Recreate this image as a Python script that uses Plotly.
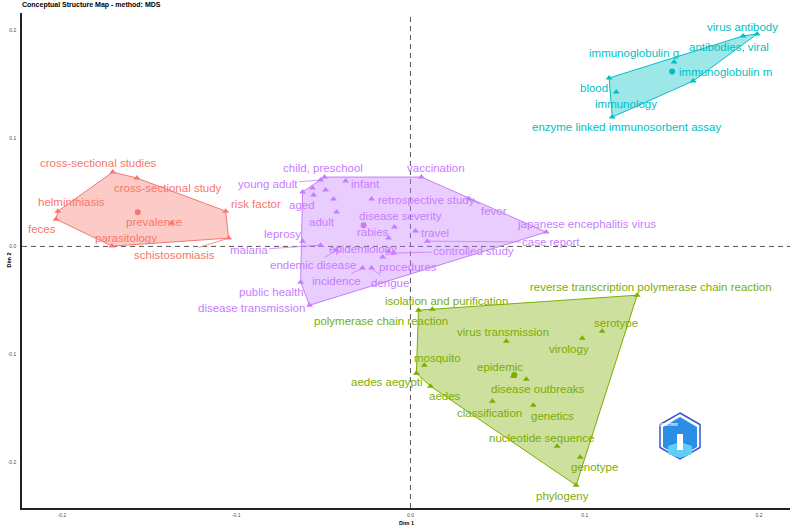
import plotly.graph_objects as go

red_words = ["cross-sectional studies", "cross-sectional study", "helminthiasis", "feces",
             "prevalence", "risk factor", "parasitology", "schistosomiasis"]
red_x = [-0.1708, -0.1570, -0.2023, -0.2034, -0.1370, -0.1060, -0.1713, -0.1043]
red_y = [0.0689, 0.0634, 0.0327, 0.0253, 0.0216, 0.0327, 0.0003, 0.0077]

purple_words = ["child, preschool", "young adult", "infant", "aged", "adult",
                "retrospective study", "disease severity", "rabies", "travel", "vaccination",
                "fever", "japanese encephalitis virus", "case report", "controlled study",
                "epidemiology", "procedures", "incidence", "dengue", "leprosy", "malaria",
                "endemic disease", "public health", "disease transmission"]
purple_x = [-0.0493, -0.0516, -0.0372, -0.0556, -0.0424, -0.0223, -0.0092, -0.0126, 0.0029,
            0.0063, 0.0338, 0.0779, 0.0097, -0.0097, -0.0126, -0.0160, -0.0275, -0.0223,
            -0.0619, -0.0516, -0.0424, -0.0630, -0.0579]
purple_y = [0.0643, 0.0615, 0.0606, 0.0476, 0.0318, 0.0439, 0.0179, 0.0077, 0.0142,
            0.0643, 0.0439, 0.0133, 0.0049, -0.0062, -0.0044, -0.0099, -0.0201, -0.0201,
            0.0049, 0.0012, -0.0034, -0.0331, -0.0545]
# purple points whose labels were dropped by the label-repel step
purple_unlabeled_x = [-0.0619, -0.0562, -0.0487, -0.0441]
purple_unlabeled_y = [0.0504, 0.0541, 0.0522, 0.0439]

teal_words = ["virus antibody", "antibodies, viral", "immunoglobulin g", "immunoglobulin m",
              "blood", "immunology", "enzyme linked immunosorbent assay"]
teal_x = [0.1989, 0.1908, 0.1513, 0.1622, 0.1140, 0.1181, 0.1158]
teal_y = [0.1969, 0.1951, 0.1710, 0.1533, 0.1561, 0.1431, 0.1199]

green_words = ["isolation and purification", "polymerase chain reaction",
               "reverse transcription polymerase chain reaction", "serotype", "virology",
               "virus transmission", "mosquito", "aedes aegypti", "aedes", "epidemic",
               "disease outbreaks", "classification", "genetics", "nucleotide sequence",
               "genotype", "phylogeny"]
green_x = [0.0126, 0.0046, 0.1301, 0.1100, 0.0986, 0.0550, 0.0080, 0.0034, 0.0115, 0.0590,
           0.0665, 0.0470, 0.0705, 0.0842, 0.0974, 0.0951]
green_y = [-0.0582, -0.0591, -0.0452, -0.0786, -0.0851, -0.0878, -0.1101, -0.1175, -0.1296,
           -0.1203, -0.1231, -0.1435, -0.1472, -0.1853, -0.1955, -0.2214]

tick_vals = [-0.2, -0.1, 0.0, 0.1, 0.2]
tick_text = ["-0.2", "-0.1", "0.0", "0.1", "0.2"]

# ---------------- styling ----------------
FONT = "Liberation Sans, Arial, Helvetica, sans-serif"
LABEL_SIZE = 11.5
# label placement (pixel offsets of the label centre from its point; True = connector segment)
LABEL_POS = {
    "cross-sectional studies": (-14, -9, False), "cross-sectional study": (31, 10, False),
    "helminthiasis": (14, -9, False), "feces": (-14, 10, False), "prevalence": (-18, -1, False),
    "risk factor": (30, -7, False), "parasitology": (14, -8, False),
    "schistosomiasis": (-54, 17, True),
    "child, preschool": (-2, -9, False), "young adult": (-53, 4, True), "infant": (20, 3, False),
    "aged": (-12, 10, False), "adult": (-15, 10, False), "retrospective study": (55, 1, False),
    "disease severity": (6, -11, False), "rabies": (-15, -6, False), "travel": (19, 2, False),
    "vaccination": (15, -9, False), "fever": (25, 12, True),
    "japanese encephalitis virus": (40, -8, False), "case report": (124, 1, True),
    "controlled study": (80, -2, True), "epidemiology": (-25, -2, False),
    "procedures": (25, 10, False), "incidence": (-26, 13, True), "dengue": (18, 15, True),
    "leprosy": (-20, -7, False), "malaria": (-72, 5, True), "endemic disease": (-24, 15, True),
    "public health": (-29, 10, False), "disease transmission": (-58, 3, False),
    "virus antibody": (-15, -7, False), "antibodies, viral": (-14, 11, False),
    "immunoglobulin g": (-40, -9, False), "immunoglobulin m": (32, -9, False),
    "blood": (-15, 10, False), "immunology": (10, 12, False),
    "enzyme linked immunosorbent assay": (14, 10, False),
    "isolation and purification": (14, -8, False), "polymerase chain reaction": (-37, 11, False),
    "reverse transcription polymerase chain reaction": (14, -8, False),
    "serotype": (14, -8, False), "virology": (-13, 11, False), "virus transmission": (-3, -9, False),
    "mosquito": (13, -7, False), "aedes aegypti": (-29, 9, False), "aedes": (15, 10, False),
    "epidemic": (-13, -9, False), "disease outbreaks": (12, 10, False),
    "classification": (-3, 12, False), "genetics": (19, 11, False),
    "nucleotide sequence": (-15, -8, False), "genotype": (14, 10, False),
    "phylogeny": (-14, 11, False),
}

FILL_ALPHA = 0.38
clusters = [
    ("#F8766D", red_words, red_x, red_y, [], []),
    ("#7CAE00", green_words, green_x, green_y, [], []),
    ("#00BFC4", teal_words, teal_x, teal_y, [], []),
    ("#C77CFF", purple_words, purple_x, purple_y, purple_unlabeled_x, purple_unlabeled_y),
]


def hex_to_rgba(h, a):
    h = h.lstrip("#")
    return f"rgba({int(h[0:2],16)},{int(h[2:4],16)},{int(h[4:6],16)},{a})"


def convex_hull(points):
    pts = sorted(set(points))
    if len(pts) <= 2:
        return pts

    def cross(o, a, b):
        return (a[0] - o[0]) * (b[1] - o[1]) - (a[1] - o[1]) * (b[0] - o[0])
    lower, upper = [], []
    for p in pts:
        while len(lower) >= 2 and cross(lower[-2], lower[-1], p) <= 0:
            lower.pop()
        lower.append(p)
    for p in reversed(pts):
        while len(upper) >= 2 and cross(upper[-2], upper[-1], p) <= 0:
            upper.pop()
        upper.append(p)
    return lower[:-1] + upper[:-1]


fig = go.Figure()
annotations = []

for color, words, xs, ys, ux, uy in clusters:
    all_x = list(xs) + list(ux)
    all_y = list(ys) + list(uy)
    hull = convex_hull(list(zip(all_x, all_y)))
    hx = [p[0] for p in hull] + [hull[0][0]]
    hy = [p[1] for p in hull] + [hull[0][1]]
    fig.add_trace(go.Scatter(x=hx, y=hy, mode="lines", fill="toself",
                             fillcolor=hex_to_rgba(color, FILL_ALPHA),
                             line=dict(color=color, width=1), hoverinfo="skip",
                             showlegend=False))
    fig.add_trace(go.Scatter(x=all_x, y=all_y, mode="markers",
                             marker=dict(symbol="triangle-up", size=6, color=color),
                             text=list(words) + [""] * len(ux), showlegend=False))
    cx = sum(all_x) / len(all_x)
    cy = sum(all_y) / len(all_y)
    fig.add_trace(go.Scatter(x=[cx], y=[cy], mode="markers",
                             marker=dict(symbol="circle", size=6, color=color),
                             showlegend=False, hoverinfo="skip"))
    for w, x, y in zip(words, xs, ys):
        dx, dy, seg = LABEL_POS[w]
        if seg:
            annotations.append(dict(x=x, y=y, xref="x", yref="y", text=w, showarrow=True,
                                    ax=dx, ay=dy, axref="pixel", ayref="pixel",
                                    arrowhead=0, arrowwidth=0.8, arrowcolor=color,
                                    standoff=1, startstandoff=0,
                                    font=dict(family=FONT, size=LABEL_SIZE, color=color)))
        else:
            annotations.append(dict(x=x, y=y, xref="x", yref="y", text=w, showarrow=False,
                                    xshift=dx, yshift=-dy,
                                    font=dict(family=FONT, size=LABEL_SIZE, color=color)))

# axis titles
annotations.append(dict(x=0.5, y=0, xref="paper", yref="paper", yshift=-15, yanchor="middle",
                        text="<b>Dim 1</b>",
                        showarrow=False, font=dict(family=FONT, size=5.5, color="black")))
annotations.append(dict(x=0, y=0.5, xref="paper", yref="paper", xshift=-19, text="<b>Dim 2</b>",
                        textangle=-90, showarrow=False,
                        font=dict(family=FONT, size=5.5, color="black")))

# logo (decoration) in pixel space
PL, PR, PT, PB = 22, 790, 13, 508


def to_paper(px, py):
    return (px - PL) / (PR - PL), (PB - py) / (PB - PT)


def hex_path(cx, cy, rx, ry):
    pts = [(cx, cy - ry), (cx + rx, cy - ry / 2), (cx + rx, cy + ry / 2),
           (cx, cy + ry), (cx - rx, cy + ry / 2), (cx - rx, cy - ry / 2)]
    pp = [to_paper(*p) for p in pts]
    return "M " + " L ".join(f"{a:.5f},{b:.5f}" for a, b in pp) + " Z"


shapes = [
    dict(type="line", xref="x", yref="paper", x0=0, x1=0, y0=0, y1=1,
         line=dict(color="#555555", width=1, dash="5px,4px"), layer="below"),
    dict(type="line", xref="paper", yref="y", x0=0, x1=1, y0=0, y1=0,
         line=dict(color="#555555", width=1, dash="5px,4px"), layer="below"),
    dict(type="path", xref="paper", yref="paper", path=hex_path(680, 436, 20, 23),
         fillcolor="white", line=dict(color="#3556d0", width=1.5), layer="above"),
    dict(type="path", xref="paper", yref="paper", path=hex_path(680, 437, 17, 20),
         fillcolor="#2a8de6", line=dict(width=0), layer="above"),
    dict(type="path", xref="paper", yref="paper", path=hex_path(680, 450, 12, 8),
         fillcolor="#5fd0f5", line=dict(width=0), layer="above"),
]
x0p, y0p = to_paper(677, 434)
x1p, y1p = to_paper(683, 450)
shapes.append(dict(type="rect", xref="paper", yref="paper", x0=x0p, x1=x1p, y0=y1p, y1=y0p,
                   fillcolor="white", line=dict(width=0), layer="above"))
lx, ly = to_paper(680, 429)
annotations.append(dict(x=lx, y=ly, xref="paper", yref="paper", text="<b>BIBLIOMETRIX</b>",
                        showarrow=False, font=dict(family=FONT, size=4, color="white")))

fig.update_layout(
    width=794, height=525,
    margin=dict(l=PL, r=794 - PR, t=PT, b=525 - PB),
    paper_bgcolor="white", plot_bgcolor="white",
    title=dict(text="<b>Conceptual Structure Map - method: MDS</b>", x=22 / 794, xanchor="left",
               y=1 - 5 / 525, yanchor="middle", font=dict(family=FONT, size=7, color="black")),
    xaxis=dict(range=[-0.2229, 0.2178], showgrid=False, zeroline=False, tickvals=tick_vals,
               ticktext=tick_text, tickfont=dict(family=FONT, size=5, color="#4d4d4d"),
               showline=True, linecolor="#222222", linewidth=1.5, ticks="", ticklabelstandoff=1),
    yaxis=dict(range=[-0.2425, 0.2164], showgrid=False, zeroline=False, tickvals=tick_vals,
               ticktext=tick_text, tickfont=dict(family=FONT, size=5, color="#4d4d4d"),
               showline=True, linecolor="#222222", linewidth=1.5, ticks="", ticklabelstandoff=3),
    annotations=annotations, shapes=shapes, showlegend=False,
)

fig.write_html("out.html")
